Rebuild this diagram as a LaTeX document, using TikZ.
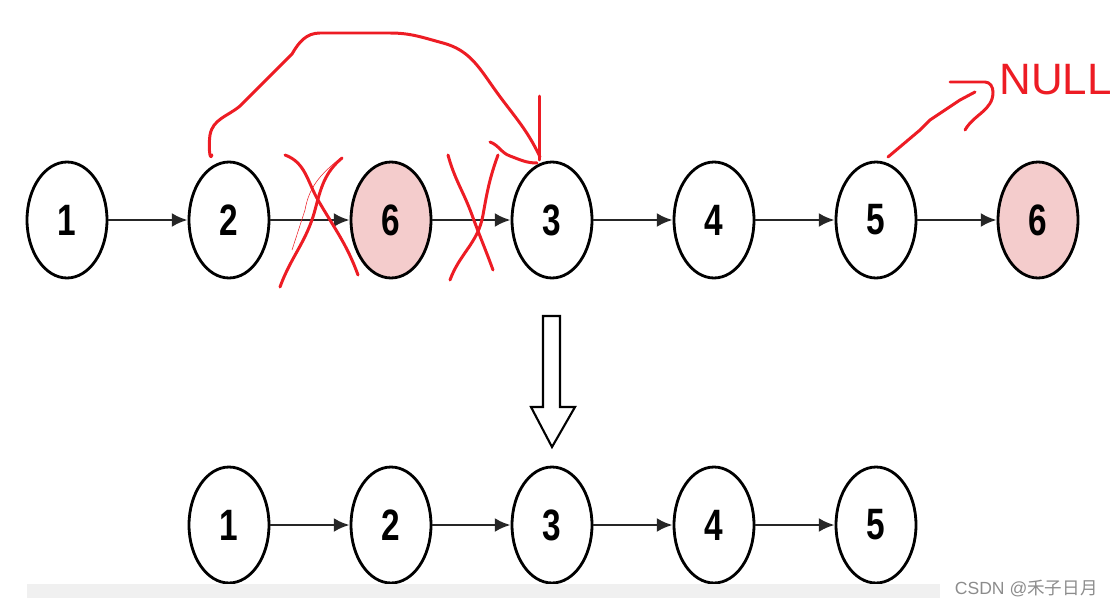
\documentclass[tikz,border=0pt]{standalone}
\usepackage{fontspec}
\setmainfont{Liberation Sans}
\newfontfamily\digitfont[FakeStretch=0.76]{Liberation Sans}
\newfontfamily\cjkfont{Noto Sans CJK SC}
\usetikzlibrary{arrows.meta,positioning,shapes.geometric}
\definecolor{penred}{RGB}{237,28,36}
\definecolor{nodepink}{RGB}{244,204,204}

\begin{document}
\begin{tikzpicture}[x=0.02cm, y=-0.02cm, nd/.style={draw, ellipse, line width=1.6pt, minimum width=1.6cm, minimum height=2.32cm, inner sep=0pt, fill=white, font=\digitfont\bfseries\fontsize{25}{25}\selectfont}, hot/.style={nd, fill=nodepink}, arr/.style={-{Latex[length=9pt,width=8pt]}, line width=1.6pt, black!85}, pen/.style={draw=penred, line width=1.7pt, line cap=round, line join=round}]
\useasboundingbox (0,0) rectangle (1111,608);
% top list: 1 2 6 3 4 5 6
\node[nd] (a1) at (67,220) {1};
\node[nd] (a2) at (229,220) {2};
\node[hot] (a6) at (391,220) {6};
\node[nd] (a3) at (552,220) {3};
\node[nd] (a4) at (714,220) {4};
\node[nd] (a5) at (876,220) {5};
\node[hot] (a7) at (1038,220) {6};
\draw[arr] (a1)--(a2); \draw[arr] (a2)--(a6); \draw[arr] (a6)--(a3); \draw[arr] (a3)--(a4); \draw[arr] (a4)--(a5); \draw[arr] (a5)--(a7);
% bottom list: 1 2 3 4 5
\node[nd] (b1) at (229,525) {1};
\node[nd] (b2) at (391,525) {2};
\node[nd] (b3) at (552,525) {3};
\node[nd] (b4) at (714,525) {4};
\node[nd] (b5) at (876,525) {5};
\draw[arr] (b1)--(b2); \draw[arr] (b2)--(b3); \draw[arr] (b3)--(b4); \draw[arr] (b4)--(b5);
% hollow arrow
\draw[line width=1.2pt, fill=white] (543,316) -- (560,316) -- (560,407) -- (575,407) -- (552,447) -- (531,407) -- (543,407) -- cycle;
% red pen marks
\draw[pen] (212,155) to[out=250,in=260] (210,135) to[out=80,in=220] (240,106) -- (292,54) to[out=60,in=180] (320,33) -- (390,33) to[out=0,in=165] (443,43) to[out=-15,in=125] (493,87) to[out=-55,in=115] (540,157);
\draw[pen] (539,96) -- (539,160);
\draw[pen] (490,142) to[out=-20,in=160] (510,156) to[out=-20,in=180] (537,163);
\draw[pen] (285,155) to[out=-20,in=120] (318,200) to[out=-60,in=110] (358,275);
\draw[pen] (342,158) to[out=-140,in=75] (315,210) to[out=-105,in=70] (280,287);
\draw[penred, line width=0.3pt] (338,160) to[out=-140,in=80] (305,210) -- (292,250);
\draw[pen] (448,155) to[out=-75,in=110] (472,215) to[out=-70,in=110] (493,270);
\draw[pen] (498,155) to[out=-110,in=80] (483,215) to[out=-100,in=70] (450,280);
\draw[pen] (888,157) -- (920,130) -- (930,120) -- (960,100) -- (975,92);
\draw[pen] (950,82) -- (985,82) to[out=0,in=90] (993,92) to[out=-90,in=60] (965,130);
\node[text=penred, font=\fontsize{25}{25}\selectfont, anchor=west, inner sep=0pt] (null) at (999,80) {NULL};
% footer strip and mark
\fill[black!6] (27,584) rectangle (940,598);
\node[text=black!45, font=\fontsize{10}{10}\selectfont, anchor=east, inner sep=0pt] (mark) at (1098,589) {CSDN @{\cjkfont 禾子日月}};
\end{tikzpicture}
\end{document}
